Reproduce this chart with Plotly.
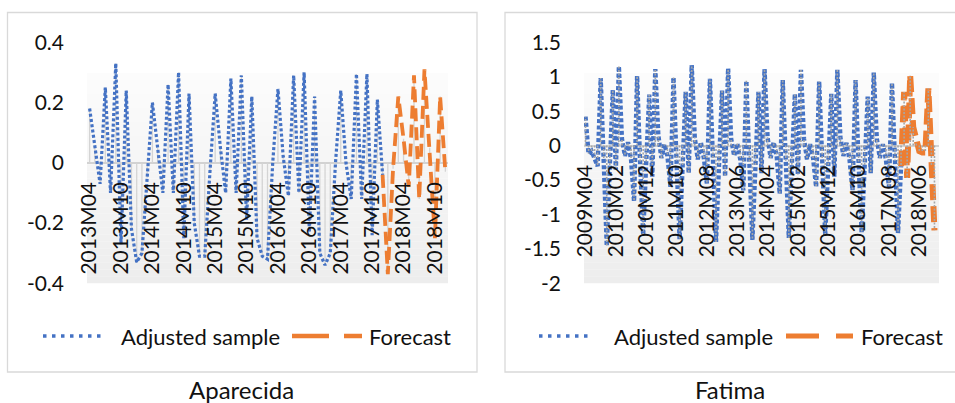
import plotly.graph_objects as go

W, H = 955, 403
FONT = "Lato"

def month_labels(year, month, n):
    out = []
    for i in range(n):
        yy = year + (month - 1 + i) // 12
        mm = (month - 1 + i) % 12 + 1
        out.append(f"{yy}M{mm:02d}")
    return out

# ---------------- data ----------------
aparecida_months = month_labels(2013, 4, 69)      # 2013M04 .. 2018M12
fatima_months = month_labels(2009, 4, 117)        # 2009M04 .. 2018M12

aparecida_ticks = ["2013M04", "2013M10", "2014M04", "2014M10", "2015M04", "2015M10",
                   "2016M04", "2016M10", "2017M04", "2017M10", "2018M04", "2018M10"]
fatima_ticks = ["2009M04", "2010M02", "2010M12", "2011M10", "2012M08", "2013M06",
                "2014M04", "2015M02", "2015M12", "2016M10", "2017M08", "2018M06"]

aparecida_y_ticks = [-0.4, -0.2, 0, 0.2, 0.4]
aparecida_y_text = ["-0.4", "-0.2", "0", "0.2", "0.4"]
fatima_y_ticks = [-2, -1.5, -1, -0.5, 0, 0.5, 1, 1.5]
fatima_y_text = ["-2", "-1.5", "-1", "-0.5", "0", "0.5", "1", "1.5"]

# Aparecida adjusted sample, 2013M04 .. 2017M12
aparecida_adjusted = [
    0.18, 0.05, -0.07, 0.25, -0.10, 0.33, -0.27, 0.24, -0.22, -0.33, -0.30, -0.05,
    0.20, 0.05, -0.10, 0.26, -0.10, 0.30, -0.25, 0.23, -0.20, -0.31, -0.31, -0.03,
    0.23, 0.05, -0.10, 0.28, -0.10, 0.29, -0.19, 0.22, -0.25, -0.31, -0.32, 0.00,
    0.245, 0.02, -0.11, 0.29, -0.10, 0.30, -0.23, 0.22, -0.30, -0.34, -0.30, 0.00,
    0.24, 0.00, -0.12, 0.295, -0.12, 0.295, -0.24, 0.21, -0.04,
]
# Aparecida forecast, 2017M12 .. 2018M12
aparecida_forecast = [-0.04, -0.37, -0.02, 0.22, 0.08, -0.08, 0.29, -0.12, 0.31, 0.05, -0.25, 0.22, -0.03]

# Fatima adjusted sample, 2009M04 .. 2017M12
fatima_adjusted = [
    0.42, -0.12, -0.08, -0.20, -0.30, 0.98, -0.20, -1.46, -0.30, 0.81, -0.35, 1.15,
    0.10, -0.15, 0.05, -0.20, -0.81, 1.01, -0.25, -1.30, -0.25, 0.74, -0.45, 1.11,
    0.15, -0.18, 0.02, -0.15, -0.60, 0.99, -0.22, -1.36, -0.30, 0.78, -0.40, 1.17,
    0.12, -0.20, 0.05, -0.18, -0.55, 0.97, -0.20, -1.40, -0.28, 0.80, -0.45, 1.12,
    0.10, -0.15, 0.03, -0.20, -0.65, 0.94, -0.25, -1.37, -0.30, 0.78, -0.40, 1.11,
    0.12, -0.18, 0.05, -0.15, -0.70, 0.95, -0.22, -1.34, -0.28, 0.75, -0.42, 1.10,
    0.10, -0.20, 0.02, -0.18, -0.60, 0.93, -0.20, -1.30, -0.30, 0.75, -0.45, 1.10,
    0.12, -0.15, 0.04, -0.20, -0.65, 0.95, -0.25, -1.27, -0.30, 0.71, -0.40, 1.06,
    0.10, -0.18, 0.02, -0.20, -0.60, 0.91, -0.22, -1.27, -0.30,
]
# Fatima forecast, 2017M12 .. 2018M11
fatima_forecast = [-0.30, 0.78, -0.47, 1.02, 0.27, 0.05, -0.08, -0.10, -0.10, 0.83, -0.30, -1.23]

BLUE = "#4472C4"
ORANGE = "#ED7D31"

# ---------------- helpers ----------------
def px_x(p):
    return p / W

def px_y(p):
    return 1 - p / H

def drop_lines(cats, vals):
    xs, ys = [], []
    for c, v in zip(cats, vals):
        xs += [c, c, None]
        ys += [0, v, None]
    return xs, ys

fig = go.Figure()

panels = [
    dict(months=aparecida_months, adj=aparecida_adjusted, fc=aparecida_forecast,
         xa="x", ya="y", drop_color="#d4d4d4", drop_dash="solid", drop_w=1.3, drop_top=False,
         blue_w=3.2, blue_dash="3px,2.3px", or_w=3.8, or_dash="13px,6px"),
    dict(months=fatima_months, adj=fatima_adjusted, fc=fatima_forecast,
         xa="x2", ya="y2", drop_color="#a6a6a6", drop_dash="2px,1.5px", drop_w=1.6, drop_top=True,
         blue_w=4.4, blue_dash="4px,2.3px", or_w=6.0, or_dash="16px,6px"),
]

for p in panels:
    n_adj = len(p["adj"])
    adj_x = p["months"][:n_adj]
    fc_x = p["months"][n_adj - 1:n_adj - 1 + len(p["fc"])]
    dx, dy = drop_lines(adj_x + fc_x[1:], p["adj"] + p["fc"][1:])
    drop = go.Scatter(x=dx, y=dy, mode="lines", xaxis=p["xa"], yaxis=p["ya"],
                      line=dict(color=p["drop_color"], width=p["drop_w"], dash=p["drop_dash"]),
                      showlegend=False, hoverinfo="skip", connectgaps=False)
    if not p["drop_top"]:
        fig.add_trace(drop)
    fig.add_trace(go.Scatter(x=adj_x, y=p["adj"], mode="lines", name="Adjusted sample",
                             xaxis=p["xa"], yaxis=p["ya"], showlegend=False,
                             line=dict(color=BLUE, width=p["blue_w"], dash=p["blue_dash"])))
    fig.add_trace(go.Scatter(x=fc_x, y=p["fc"], mode="lines", name="Forecast",
                             xaxis=p["xa"], yaxis=p["ya"], showlegend=False,
                             line=dict(color=ORANGE, width=p["or_w"], dash=p["or_dash"])))
    if p["drop_top"]:
        fig.add_trace(drop)

# ---------------- layout geometry ----------------
L_X0, L_X1 = 87, 448
R_X0, R_X1 = 584, 939
Y_TOP, Y_BOT = 42.3, 283.3
tickfont = dict(family=FONT, size=21, color="#111111")

def xaxis_cfg(x0, x1, cats, ticks, zero_px):
    return dict(type="category", domain=[px_x(x0), px_x(x1)], anchor="free",
                position=px_y(zero_px), range=[-0.5, len(cats) - 0.5],
                categoryorder="array", categoryarray=cats,
                tickmode="array", tickvals=ticks, ticktext=ticks, tickangle=-90,
                tickfont=tickfont, showgrid=False, showline=False, zeroline=False,
                ticks="", ticklabelstandoff=14, automargin=False, fixedrange=True)

def yaxis_cfg(xname, rng, tv, tt):
    return dict(domain=[px_y(Y_BOT), px_y(Y_TOP)], anchor=xname, range=rng,
                tickmode="array", tickvals=tv, ticktext=tt, tickfont=tickfont,
                showgrid=False, showline=False, zeroline=True, zerolinecolor="#d2d2d2",
                zerolinewidth=1.6, ticks="", ticklabelstandoff=22, automargin=False,
                fixedrange=True)

left_zero = Y_TOP + (Y_BOT - Y_TOP) * 0.4 / 0.8
right_zero = Y_TOP + (Y_BOT - Y_TOP) * 1.5 / 3.5

shapes = []
# gradient plot-area background
GT, GB = 73, Y_BOT
nb = 30
for (x0, x1) in [(L_X0, L_X1), (R_X0, R_X1)]:
    for i in range(nb):
        t = (i + 0.5) / nb
        c = int(round(252 - (252 - 237) * t))
        shapes.append(dict(type="rect", xref="paper", yref="paper", layer="below",
                           x0=px_x(x0), x1=px_x(x1),
                           y0=px_y(GT + (GB - GT) * (i + 1) / nb),
                           y1=px_y(GT + (GB - GT) * i / nb),
                           line=dict(width=0), fillcolor=f"rgb({c},{c},{c})"))
# chart boxes
shapes.append(dict(type="rect", xref="paper", yref="paper", x0=px_x(7.5), x1=px_x(477),
                   y0=px_y(372), y1=px_y(12.5), line=dict(color="#d9d9d9", width=1.3)))
shapes.append(dict(type="rect", xref="paper", yref="paper", x0=px_x(505), x1=px_x(965),
                   y0=px_y(372), y1=px_y(12.5), line=dict(color="#d9d9d9", width=1.3)))

annotations = []
LEG_Y = 336
legend_font = dict(family=FONT, size=22, color="#111111")
for (b0, b1, t1, o0, o1, t2, ow, odash) in [
        (43, 104, 119, 292, 362, 367, 4.5, "37px,15px"),
        (539, 592, 612, 786, 853, 859, 5.0, "33px,17px")]:
    shapes.append(dict(type="line", xref="paper", yref="paper", x0=px_x(b0), x1=px_x(b1),
                       y0=px_y(LEG_Y), y1=px_y(LEG_Y),
                       line=dict(color=BLUE, width=3.5, dash="3.5px,5.5px")))
    shapes.append(dict(type="line", xref="paper", yref="paper", x0=px_x(o0), x1=px_x(o1),
                       y0=px_y(LEG_Y), y1=px_y(LEG_Y),
                       line=dict(color=ORANGE, width=ow, dash=odash)))
    annotations.append(dict(text="Adjusted sample", xref="paper", yref="paper", x=px_x(t1),
                            y=px_y(LEG_Y), xanchor="left", yanchor="middle",
                            showarrow=False, font=legend_font))
    annotations.append(dict(text="Forecast", xref="paper", yref="paper", x=px_x(t2),
                            y=px_y(LEG_Y), xanchor="left", yanchor="middle",
                            showarrow=False, font=legend_font))

title_font = dict(family=FONT, size=24, color="#111111")
annotations.append(dict(text="Aparecida", xref="paper", yref="paper", x=px_x(242), y=px_y(389),
                        xanchor="center", yanchor="middle", showarrow=False, font=title_font))
annotations.append(dict(text="Fatima", xref="paper", yref="paper", x=px_x(730), y=px_y(389),
                        xanchor="center", yanchor="middle", showarrow=False, font=title_font))

fig.update_layout(
    width=W, height=H, autosize=False,
    margin=dict(l=0, r=0, t=0, b=0, pad=0),
    paper_bgcolor="white", plot_bgcolor="rgba(0,0,0,0)",
    font=dict(family=FONT, color="#111111"),
    showlegend=False,
    xaxis=xaxis_cfg(L_X0, L_X1, aparecida_months, aparecida_ticks, left_zero),
    yaxis=yaxis_cfg("x", [-0.4, 0.4], aparecida_y_ticks, aparecida_y_text),
    xaxis2=xaxis_cfg(R_X0, R_X1, fatima_months, fatima_ticks, right_zero),
    yaxis2=yaxis_cfg("x2", [-2, 1.5], fatima_y_ticks, fatima_y_text),
    shapes=shapes,
    annotations=annotations,
)

fig.write_html("out.html", config={"displayModeBar": False},
               post_script="document.body.style.margin='0';")
